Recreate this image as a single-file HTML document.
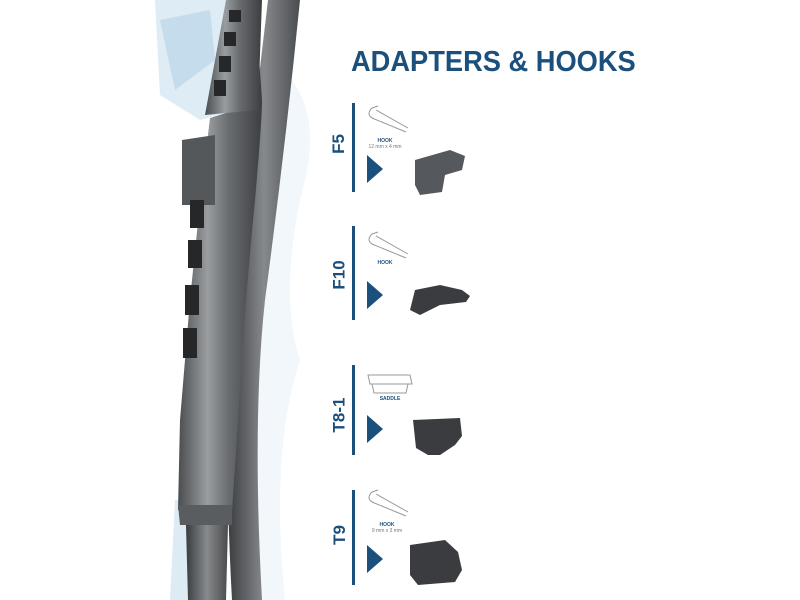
<!DOCTYPE html>
<html><head><style>
html,body{margin:0;padding:0;background:#fff;}
.wrap{position:relative;width:800px;height:600px;overflow:hidden;background:#fff;font-family:"Liberation Sans",sans-serif;}
.title{position:absolute;left:351px;top:46px;font-size:29px;font-weight:bold;color:#1b4f7c;letter-spacing:0px;white-space:nowrap;transform:scaleX(0.94);transform-origin:left top;}
.lbl{position:absolute;color:#1b4f7c;font-weight:bold;font-size:17px;transform:rotate(-90deg);transform-origin:center;white-space:nowrap;}
.small{position:absolute;font-size:5px;color:#1b4f7c;text-align:center;width:60px;line-height:6px;}
.small b{font-size:5px}
.small span{color:#777}
</style></head><body><div class="wrap">
<svg width="800" height="600" style="position:absolute;left:0;top:0">
<defs>
<linearGradient id="m" x1="0" x2="1"><stop offset="0" stop-color="#4a4d50"/><stop offset="0.35" stop-color="#9a9da0"/><stop offset="0.6" stop-color="#6a6d70"/><stop offset="1" stop-color="#3c3e40"/></linearGradient>
<linearGradient id="m2" x1="0" x2="1"><stop offset="0" stop-color="#3a3c3e"/><stop offset="0.5" stop-color="#878a8d"/><stop offset="1" stop-color="#4a4c4e"/></linearGradient>
</defs>
<!-- water -->
<path d="M155 0 L240 0 L235 110 L200 120 L160 95 Z" fill="#d6e7f2" opacity="0.8"/>
<path d="M160 20 L210 10 L215 60 L175 90 Z" fill="#a9cbe2" opacity="0.5"/>
<path d="M270 60 Q330 100 300 200 Q280 300 300 360 Q270 450 285 600 L250 600 L255 80 Z" fill="#eef5fa" opacity="0.8"/>
<path d="M175 500 L195 500 L195 600 L170 600 Z" fill="#cfe3f0" opacity="0.7"/>
<!-- second rail -->
<path d="M268 0 L300 0 Q285 150 265 300 Q252 420 262 600 L232 600 Q222 420 235 300 Q250 150 268 0 Z" fill="url(#m2)"/>
<!-- main frame -->
<path d="M226 0 L250 0 Q245 80 235 110 L210 118 Q200 200 190 300 L180 420 L178 510 L232 512 L238 420 Q245 300 255 200 Q262 120 262 100 L255 0 Z" fill="url(#m)"/>
<path d="M226 0 L262 0 L258 110 L205 115 Z" fill="url(#m)"/>
<path d="M182 140 L215 135 L215 205 L182 205 Z" fill="#55585b"/>
<path d="M178 505 L232 505 L232 525 L180 525 Z" fill="#5a5d60"/>
<path d="M186 525 L228 525 L226 600 L188 600 Z" fill="url(#m2)"/>
<g fill="#262728">
<rect x="229" y="10" width="12" height="12"/><rect x="224" y="32" width="12" height="14"/><rect x="219" y="56" width="12" height="16"/><rect x="214" y="80" width="12" height="16"/>
<rect x="190" y="200" width="14" height="28"/><rect x="188" y="240" width="14" height="28"/><rect x="185" y="285" width="14" height="30"/><rect x="183" y="328" width="14" height="30"/>
</g>
<g fill="#1b4f7c">
<rect x="352" y="103" width="3" height="89"/><rect x="352" y="226" width="3" height="94"/><rect x="352" y="365" width="3" height="90"/><rect x="352" y="490" width="3" height="95"/>
<polygon points="367,155 383,169 367,183"/><polygon points="367,281 383,295 367,309"/><polygon points="367,415 383,429 367,443"/><polygon points="367,545 383,559 367,573"/>
</g>
<g fill="none" stroke="#999" stroke-width="1">
<path d="M372 108 Q366 114 372 118 L406 132 M376 110 L408 128 M372 108 L378 106"/>
<path d="M372 234 Q366 240 372 244 L406 258 M376 236 L408 254 M372 234 L378 232"/>
<path d="M368 375 L410 375 L412 384 L370 384 Z M372 384 L374 393 L406 393 L408 384"/>
<path d="M372 492 Q366 498 372 502 L406 516 M376 494 L408 512 M372 492 L378 490"/>
</g>
<g fill="#3a3c3f">
<path d="M415 160 L450 150 L465 156 L462 170 L445 175 L442 192 L420 195 L415 185 Z" fill="#55585c"/>
<path d="M410 310 L415 290 L440 285 L462 290 L470 296 L466 302 L440 305 L420 315 Z"/>
<path d="M413 420 L460 418 L462 436 L455 445 L440 455 L428 455 L416 448 Z"/>
<path d="M410 545 L445 540 L458 552 L462 570 L455 582 L418 585 L410 575 Z"/>
</g>
</svg>
<div class="title">ADAPTERS &amp; HOOKS</div>
<div class="lbl" style="left:329px;top:134px;">F5</div>
<div class="lbl" style="left:325px;top:265px;">F10</div>
<div class="lbl" style="left:322px;top:405px;">T8-1</div>
<div class="lbl" style="left:330px;top:525px;">T9</div>
<div class="small" style="left:355px;top:138px;"><b>HOOK</b><br><span>12 mm x 4 mm</span></div>
<div class="small" style="left:355px;top:260px;"><b>HOOK</b></div>
<div class="small" style="left:360px;top:396px;"><b>SADDLE</b></div>
<div class="small" style="left:357px;top:522px;"><b>HOOK</b><br><span>9 mm x 3 mm</span></div>
</div></body></html>
